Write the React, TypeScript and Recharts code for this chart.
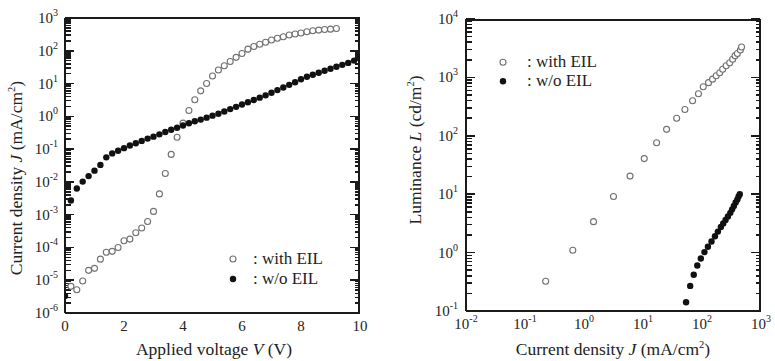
import { ScatterChart, Scatter, XAxis, YAxis, Legend, Label } from "recharts";

// ---- left panel: J-V ----
const voltageWo = [
  0, 0.2, 0.4, 0.6, 0.8, 1.0, 1.2, 1.4, 1.6, 1.8, 2.0, 2.2, 2.4, 2.6, 2.8, 3.0, 3.2,
  3.4, 3.6, 3.8, 4.0, 4.2, 4.4, 4.6, 4.8, 5.0, 5.2, 5.4, 5.6, 5.8, 6.0, 6.2, 6.4,
  6.6, 6.8, 7.0, 7.2, 7.4, 7.6, 7.8, 8.0, 8.2, 8.4, 8.6, 8.8, 9.0, 9.2, 9.4, 9.6,
  9.8, 10.0,
];
const jWo = [
  3.3e-6, 2.7e-3, 6.3e-3, 1.02e-2, 1.5e-2, 2.2e-2, 3.3e-2, 5.6e-2, 7.4e-2, 8.9e-2,
  0.107, 0.129, 0.151, 0.178, 0.209, 0.24, 0.282, 0.331, 0.389, 0.447, 0.525, 0.617,
  0.708, 0.794, 0.912, 1.05, 1.2, 1.41, 1.66, 1.95, 2.29, 2.69, 3.16, 3.72, 4.37,
  5.25, 6.31, 7.59, 9.12, 11.0, 13.5, 16.2, 18.6, 21.4, 24.5, 28.2, 32.4, 37.2,
  42.7, 50.1, 60.3,
];
const voltageWith = [
  0.2, 0.4, 0.6, 0.8, 1.0, 1.2, 1.4, 1.6, 1.8, 2.0, 2.2, 2.4, 2.6, 2.8, 3.0, 3.2,
  3.4, 3.6, 3.8, 4.0, 4.2, 4.4, 4.6, 4.8, 5.0, 5.2, 5.4, 5.6, 5.8, 6.0, 6.2, 6.4,
  6.6, 6.8, 7.0, 7.2, 7.4, 7.6, 7.8, 8.0, 8.2, 8.4, 8.6, 8.8, 9.0, 9.2,
];
const jWith = [
  6.5e-6, 5.1e-6, 9.5e-6, 2.0e-5, 2.3e-5, 4.4e-5, 7.1e-5, 7.6e-5, 1.0e-4, 1.6e-4,
  1.8e-4, 2.8e-4, 3.9e-4, 6.2e-4, 1.26e-3, 4.3e-3, 1.8e-2, 6.9e-2, 0.23, 0.62, 1.5,
  3.2, 6.0, 10, 17, 26, 35, 47, 63, 83, 112, 135, 158, 182, 214, 240, 269, 302, 324,
  347, 380, 407, 427, 447, 457, 479,
];

// ---- right panel: L-J ----
const lumJWith = [
  0.224, 0.646, 1.45, 3.16, 6.03, 10.5, 17.0, 25.1, 37.2, 51.3, 69.2, 87.1, 105,
  129, 151, 174, 200, 224, 257, 295, 331, 363, 398, 447, 468,
];
const lumWith = [
  0.324, 1.1, 3.39, 9.12, 20.4, 40.7, 75.9, 129, 200, 282, 398, 525, 692, 813, 933,
  1070, 1200, 1380, 1580, 1780, 2040, 2340, 2570, 2950, 3310,
];
const lumJWo = [
  53.7, 63.1, 72.4, 83.2, 95.5, 110, 126, 145, 166, 186, 209, 229, 251, 275, 302,
  324, 347, 372, 398, 417, 437,
];
const lumWo = [
  0.141, 0.269, 0.417, 0.603, 0.794, 1.02, 1.26, 1.55, 1.91, 2.29, 2.75, 3.16, 3.63,
  4.17, 4.79, 5.5, 6.31, 7.24, 8.13, 9.12, 10.0,
];

// ticks
const voltLabels = [0, 2, 4, 6, 8, 10];
const voltMajor = [0, 1, 2, 3, 4, 5, 6, 7, 8, 9, 10];
const jDecades = [1e-6, 1e-5, 1e-4, 1e-3, 1e-2, 1e-1, 1, 10, 100, 1000];
const lumJDecades = [1e-2, 1e-1, 1, 10, 100, 1000];
const lumDecades = [1e-1, 1, 10, 100, 1000, 1e4];

const minorOf = (decades: number[]) =>
  decades.slice(0, -1).flatMap((d) => [2, 3, 4, 5, 6, 7, 8, 9].map((k) => k * d));

const FONT = "'Liberation Serif', 'Times New Roman', serif";
const TXT = "#222";
const LINE = "#1a1a1a";

const leftWith = voltageWith.map((v, i) => ({ x: v, y: jWith[i] }));
const leftWo = voltageWo.map((v, i) => ({ x: v, y: jWo[i] }));
const rightWith = lumJWith.map((j, i) => ({ x: j, y: lumWith[i] }));
const rightWo = lumJWo.map((j, i) => ({ x: j, y: lumWo[i] }));

const OpenDot = (p: any) => (
  <circle cx={p.cx} cy={p.cy} r={3} fill="#fff" stroke="#707070" strokeWidth={1.1} />
);
const FilledDot = (p: any) => <circle cx={p.cx} cy={p.cy} r={3.2} fill="#111" />;

const NoTick = () => <g />;

const PowTick = (p: any) => {
  const exp = Math.round(Math.log10(p.payload.value));
  const isY = p.side === "y";
  return (
    <text
      x={p.x}
      y={isY ? p.y + 5 : p.y + 12}
      textAnchor={isY ? "end" : "middle"}
      fontFamily={FONT}
      fontSize={15}
      fill={TXT}
    >
      <tspan>10</tspan>
      <tspan dy={-7} fontSize={10}>
        {exp}
      </tspan>
    </text>
  );
};

const LinTick = (p: any) => (
  <text x={p.x} y={p.y + 12} textAnchor="middle" fontFamily={FONT} fontSize={15} fill={TXT}>
    {p.payload.value}
  </text>
);

const LegendRows = ({ gap, rowH }: { gap: number; rowH: number }) => (
  <div style={{ fontFamily: FONT, fontSize: 17, color: TXT, lineHeight: `${rowH}px` }}>
    {[
      { name: ": with EIL", open: true },
      { name: ": w/o EIL", open: false },
    ].map((r) => (
      <div key={r.name} style={{ display: "flex", alignItems: "center", height: rowH }}>
        <svg width={14} height={rowH}>
          {r.open ? (
            <circle cx={7} cy={rowH / 2} r={3} fill="#fff" stroke="#707070" strokeWidth={1.1} />
          ) : (
            <circle cx={7} cy={rowH / 2} r={3.2} fill="#111" />
          )}
        </svg>
        <span style={{ marginLeft: gap, whiteSpace: "nowrap" }}>{r.name}</span>
      </div>
    ))}
  </div>
);

// inward tick frame: mirrored axes on all four sides
const frameAxes = (
  xDomain: number[],
  xMajor: number[],
  xMinor: number[] | null,
  xLog: boolean,
  yDomain: number[],
  yMajor: number[],
  yMinor: number[]
) => {
  const xs = xLog ? "log" : "linear";
  const common = {
    type: "number" as const,
    allowDataOverflow: true,
    interval: 0 as const,
    tick: <NoTick />,
    stroke: LINE,
    tickLine: { stroke: LINE, strokeWidth: 1.5, shapeRendering: "crispEdges" },
  };
  const frame = { stroke: LINE, strokeWidth: 1.5, shapeRendering: "crispEdges" };
  const out: any[] = [];
  (["bottom", "top"] as const).forEach((o) => {
    out.push(
      <XAxis key={`x${o}`} xAxisId={`x${o}`} orientation={o} mirror height={1} scale={xs} domain={xDomain} ticks={xMajor} tickSize={8} axisLine={frame} {...common} />
    );
    if (xMinor)
      out.push(
        <XAxis key={`xm${o}`} xAxisId={`xm${o}`} orientation={o} mirror height={1} scale={xs} domain={xDomain} ticks={xMinor} tickSize={4} axisLine={false} {...common} />
      );
  });
  (["left", "right"] as const).forEach((o) => {
    out.push(
      <YAxis key={`y${o}`} yAxisId={`y${o}`} orientation={o} mirror width={1} scale="log" domain={yDomain} ticks={yMajor} tickSize={9} axisLine={frame} {...common} />
    );
    out.push(
      <YAxis key={`ym${o}`} yAxisId={`ym${o}`} orientation={o} mirror width={1} scale="log" domain={yDomain} ticks={yMinor} tickSize={5} axisLine={false} {...common} />
    );
  });
  return out;
};

const AxisTitle = ({
  x,
  y,
  rotate,
  size,
  pre,
  sym,
  unit,
  sup,
}: {
  x: number;
  y: number;
  rotate?: boolean;
  size: number;
  pre: string;
  sym: string;
  unit: string;
  sup?: string;
}) => (
  <text
    x={x}
    y={y}
    textAnchor="middle"
    fontFamily={FONT}
    fontSize={size}
    fill={TXT}
    transform={rotate ? `rotate(-90 ${x} ${y})` : undefined}
  >
    {pre}
    <tspan fontStyle="italic">{sym}</tspan>
    {"  " + unit}
    {sup ? (
      <>
        <tspan dy={-7} fontSize={size * 0.6}>
          {sup}
        </tspan>
        <tspan dy={7}>)</tspan>
      </>
    ) : (
      ")"
    )}
  </text>
);

export default function App() {
  return (
    <div style={{ position: "absolute", left: 0, top: 0, width: 775, height: 361, background: "#fff" }}>
      <div style={{ position: "absolute", left: 0, top: 0 }}>
        <ScatterChart width={380} height={361} margin={{ top: 18, right: 20, bottom: 0, left: 0 }}>
          <XAxis
            xAxisId="xl"
            type="number"
            dataKey="x"
            domain={[0, 10]}
            ticks={voltLabels}
            interval={0}
            allowDataOverflow
            height={48}
            tickLine={false}
            axisLine={false}
            tickSize={0}
            tickMargin={6}
            tick={<LinTick />}
          >
            <Label content={() => <AxisTitle x={214} y={355} size={17.5} pre="Applied voltage " sym="V" unit="(V" />} />
          </XAxis>
          <YAxis
            yAxisId="yl"
            type="number"
            dataKey="y"
            scale="log"
            domain={[1e-6, 1e3]}
            ticks={jDecades}
            interval={0}
            allowDataOverflow
            width={65}
            tickLine={false}
            axisLine={false}
            tickSize={0}
            tickMargin={7}
            tick={<PowTick side="y" />}
          >
            <Label
              content={() => (
                <AxisTitle x={22} y={178} rotate size={17.5} pre="Current density " sym="J" unit="(mA/cm" sup="2" />
              )}
            />
          </YAxis>
          {frameAxes([0, 10], voltMajor, null, false, [1e-6, 1e3], jDecades, minorOf(jDecades))}
          <Scatter data={leftWith} xAxisId="xl" yAxisId="yl" shape={OpenDot} isAnimationActive={false} />
          <Scatter data={leftWo} xAxisId="xl" yAxisId="yl" shape={FilledDot} isAnimationActive={false} />
          <Legend
            layout="vertical"
            align="center"
            verticalAlign="middle"
            wrapperStyle={{ left: 226, top: 249, width: 130 }}
            content={() => <LegendRows gap={13} rowH={20} />}
          />
        </ScatterChart>
      </div>

      <div style={{ position: "absolute", left: 390, top: 0 }}>
        <ScatterChart width={385} height={361} margin={{ top: 19, right: 14, bottom: 0, left: 0 }}>
          <XAxis
            xAxisId="xl"
            type="number"
            dataKey="x"
            scale="log"
            domain={[1e-2, 1e3]}
            ticks={lumJDecades}
            interval={0}
            allowDataOverflow
            height={50}
            tickLine={false}
            axisLine={false}
            tickSize={0}
            tickMargin={6}
            tick={<PowTick side="x" />}
          >
            <Label
              content={() => (
                <AxisTitle x={223} y={355} size={17.5} pre="Current density " sym="J" unit="(mA/cm" sup="2" />
              )}
            />
          </XAxis>
          <YAxis
            yAxisId="yl"
            type="number"
            dataKey="y"
            scale="log"
            domain={[1e-1, 1e4]}
            ticks={lumDecades}
            interval={0}
            allowDataOverflow
            width={76}
            tickLine={false}
            axisLine={false}
            tickSize={0}
            tickMargin={8}
            tick={<PowTick side="y" />}
          >
            <Label
              content={() => (
                <AxisTitle x={31} y={150} rotate size={17.5} pre="Luminance " sym="L" unit="(cd/m" sup="2" />
              )}
            />
          </YAxis>
          {frameAxes([1e-2, 1e3], lumJDecades, minorOf(lumJDecades), true, [1e-1, 1e4], lumDecades, minorOf(lumDecades))}
          <Scatter data={rightWith} xAxisId="xl" yAxisId="yl" shape={OpenDot} isAnimationActive={false} />
          <Scatter data={rightWo} xAxisId="xl" yAxisId="yl" shape={FilledDot} isAnimationActive={false} />
          <Legend
            layout="vertical"
            align="center"
            verticalAlign="middle"
            wrapperStyle={{ left: 106, top: 53, width: 130 }}
            content={() => <LegendRows gap={17} rowH={18.5} />}
          />
        </ScatterChart>
      </div>
    </div>
  );
}
